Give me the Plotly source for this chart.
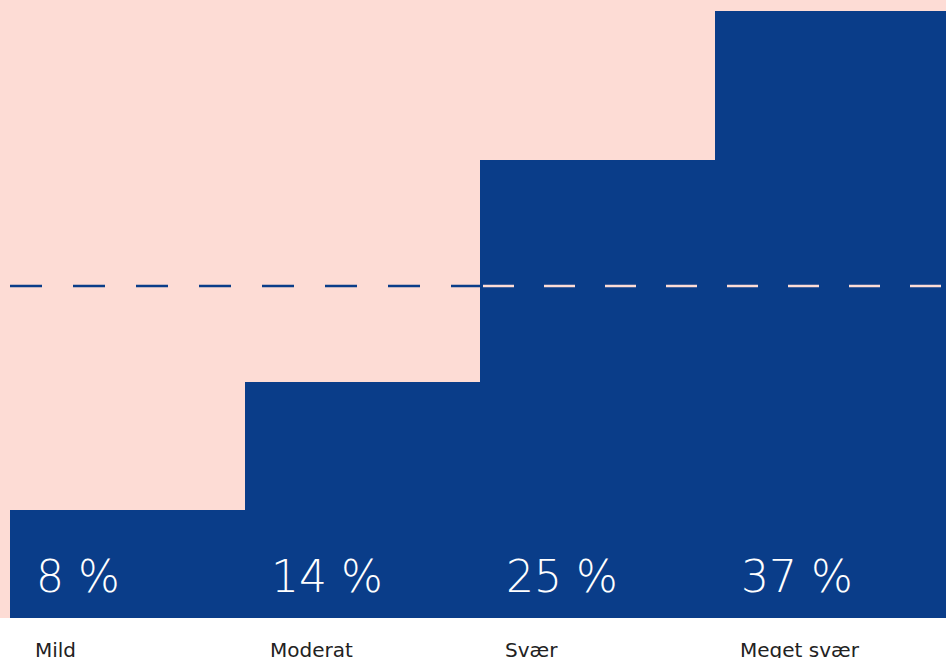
import plotly.graph_objects as go

categories = ["Mild", "Moderat", "Svær", "Meget svær"]
value_labels = ["8 %", "14 %", "25 %", "37 %"]
bar_heights = [108, 236, 458, 607]   # visual bar heights (decorative scale)
reference_level = 332

BLUE = "#0A3D89"
PINK = "#FDDCD5"

x = list(range(len(categories)))
unit = 235.0
x_range = [-0.5 - 10 / unit, -0.5 + 936 / unit]

fig = go.Figure(go.Bar(x=x, y=bar_heights, marker=dict(color=BLUE, line=dict(width=0)),
                       width=1.0, hoverinfo="skip"))

for i, (cat, val) in enumerate(zip(categories, value_labels)):
    fig.add_annotation(x=i - 0.5 + 24 / unit, y=14, xref="x", yref="y", text=val,
                       showarrow=False, xanchor="left", yanchor="bottom",
                       font=dict(family="DejaVu Sans", size=44, color="white", weight=200))
    fig.add_annotation(x=i - 0.5 + 23 / unit, y=0, xref="x", yref="paper", text=cat,
                       showarrow=False, xanchor="left", yanchor="top", yshift=-18,
                       font=dict(family="DejaVu Sans", size=20, color="#222222"))

fig.add_shape(type="line", xref="x", yref="y", x0=-0.5, x1=1.5,
              y0=reference_level, y1=reference_level,
              line=dict(color=BLUE, width=2.5, dash="32px,31px"))
fig.add_shape(type="line", xref="x", yref="y", x0=1.5 + 3 / unit, x1=x_range[1],
              y0=reference_level, y1=reference_level,
              line=dict(color=PINK, width=2.5, dash="31px,30px"))

fig.update_layout(
    width=946, height=658,
    margin=dict(l=0, r=0, t=0, b=40),
    paper_bgcolor="white", plot_bgcolor=PINK,
    bargap=0, showlegend=False,
    xaxis=dict(range=x_range, visible=False, fixedrange=True),
    yaxis=dict(range=[0, 618], visible=False, fixedrange=True),
)

fig.write_html("out.html")
